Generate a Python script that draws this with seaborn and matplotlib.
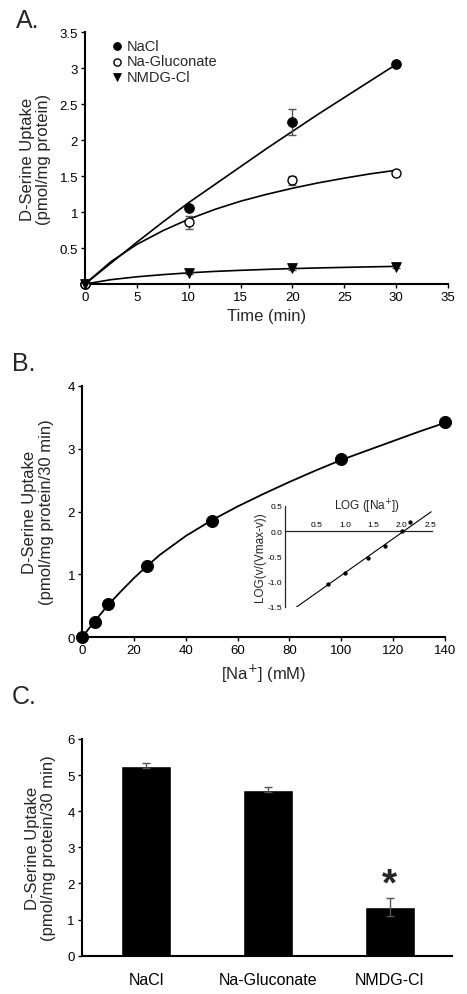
import numpy as np
import pandas as pd
import seaborn as sns
import matplotlib
matplotlib.use("Agg")
import matplotlib.pyplot as plt

sns.set_theme(style="ticks")
plt.rcParams["font.family"] = ["Liberation Sans", "DejaVu Sans"]

# ---- Panel A: time course ----
time_pts = [0, 10, 20, 30]
nacl_uptake = [0, 1.06, 2.25, 3.06]
nacl_err = [0, 0.03, 0.18, 0.02]
gluc_uptake = [0, 0.86, 1.44, 1.54]
gluc_err = [0, 0.09, 0.06, 0.02]
nmdg_uptake = [0, 0.15, 0.22, 0.24]
nmdg_err = [0, 0.01, 0.02, 0.02]

fit_time = [0, 2.5, 5, 7.5, 10, 12.5, 15, 17.5, 20, 22.5, 25, 27.5, 30]
nacl_fit = [0, 0.29, 0.58, 0.86, 1.13, 1.38, 1.63, 1.88, 2.12, 2.36, 2.59, 2.82, 3.05]
gluc_fit = [0, 0.31, 0.55, 0.74, 0.90, 1.035, 1.15, 1.245, 1.33, 1.405, 1.47, 1.53, 1.58]
nmdg_fit = [0, 0.06, 0.10, 0.13, 0.155, 0.175, 0.19, 0.203, 0.214, 0.223, 0.231, 0.238, 0.245]

# ---- Panel B: Na+ dependence ----
na_conc = [0, 5, 10, 25, 50, 100, 140]
na_uptake = [0, 0.25, 0.53, 1.14, 1.85, 2.83, 3.43]
na_err = [0, 0.02, 0.03, 0.07, 0.05, 0.04, 0.08]
na_fit_x = [0, 5, 10, 15, 20, 25, 30, 40, 50, 60, 70, 80, 90, 100, 110, 120, 130, 140]
na_fit_y = [0, 0.26, 0.51, 0.73, 0.94, 1.13, 1.31, 1.61, 1.86, 2.08, 2.28, 2.47, 2.65, 2.82, 2.97, 3.12, 3.27, 3.41]

# inset (Hill plot)
log_na = [0.70, 1.00, 1.40, 1.70, 2.00, 2.15]
log_ratio = [-1.04, -0.83, -0.53, -0.29, 0.0, 0.17]
hill_x = [0.10, 2.52]
hill_y = [-1.53, 0.38]

# ---- Panel C: bars ----
conditions = ["NaCl", "Na-Gluconate", "NMDG-Cl"]
bar_uptake = [5.26, 4.60, 1.35]
bar_err = [0.07, 0.06, 0.24]

W, H = 467, 995
fig = plt.figure(figsize=(W / 100, H / 100), dpi=100)

tick_fs = 9.5
lab_fs = 12
spine_w = 1.5
err_col = "#555555"


def style(ax):
    sns.despine(ax=ax)
    for s in ["left", "bottom"]:
        ax.spines[s].set_linewidth(spine_w)
        ax.spines[s].set_color("black")
    ax.tick_params(labelsize=tick_fs, width=1, length=3, colors="black", pad=2)


# Panel A
axA = fig.add_axes([85 / W, 1 - 285 / H, 363 / W, 252 / H])
for y in [nacl_fit, gluc_fit, nmdg_fit]:
    sns.lineplot(x=fit_time, y=y, ax=axA, color="black", lw=1.2, sort=False,
                 estimator=None)
axA.errorbar(time_pts, nacl_uptake, yerr=nacl_err, fmt="none", ecolor=err_col,
             elinewidth=1, capsize=3, clip_on=False)
axA.errorbar(time_pts, gluc_uptake, yerr=gluc_err, fmt="none", ecolor=err_col,
             elinewidth=1, capsize=3, clip_on=False)
axA.errorbar(time_pts, nmdg_uptake, yerr=nmdg_err, fmt="none", ecolor=err_col,
             elinewidth=1, capsize=3, clip_on=False)
sns.scatterplot(x=time_pts, y=nacl_uptake, ax=axA, marker="o", s=50,
                color="black", edgecolor="black", label="NaCl", clip_on=False,
                zorder=5)
sns.scatterplot(x=time_pts, y=gluc_uptake, ax=axA, marker="o", s=42,
                facecolor="white", edgecolor="black", linewidth=1,
                label="Na-Gluconate", clip_on=False, zorder=5)
sns.scatterplot(x=time_pts, y=nmdg_uptake, ax=axA, marker="v", s=50,
                color="black", edgecolor="black", label="NMDG-Cl",
                clip_on=False, zorder=5)
axA.set_xlim(0, 35)
axA.set_ylim(0, 3.5)
axA.set_xticks(range(0, 36, 5))
axA.set_yticks([0.5, 1, 1.5, 2, 2.5, 3, 3.5])
axA.set_yticklabels(["0.5", "1", "1.5", "2", "2.5", "3", "3.5"])
axA.set_xlabel("Time (min)", fontsize=lab_fs, labelpad=4)
axA.set_ylabel("D-Serine Uptake\n(pmol/mg protein)", fontsize=lab_fs,
               labelpad=6, linespacing=1.1)
style(axA)
leg = axA.legend(loc="upper left", bbox_to_anchor=(0.06, 0.99), frameon=False,
                 fontsize=10.5, handletextpad=0.3, labelspacing=0.1,
                 borderpad=0.2, handlelength=0.8, borderaxespad=0.1,
                 markerscale=0.8)
fig.text(16 / W, 1 - 21 / H, "A.", fontsize=18, va="center", ha="left")

# Panel B
axB = fig.add_axes([82 / W, 1 - 638.3 / H, 363 / W, 251.6 / H])
sns.lineplot(x=na_fit_x, y=na_fit_y, ax=axB, color="black", lw=1.3,
             sort=False, estimator=None)
axB.errorbar(na_conc, na_uptake, yerr=na_err, fmt="none", ecolor=err_col,
             elinewidth=1, capsize=2.5, clip_on=False)
sns.scatterplot(x=na_conc, y=na_uptake, ax=axB, marker="o", s=75,
                color="black", edgecolor="black", clip_on=False, zorder=5)
axB.set_xlim(0, 140)
axB.set_ylim(0, 4)
axB.set_xticks(range(0, 141, 20))
axB.set_yticks(range(0, 5))
axB.set_xlabel("[Na$^{+}$] (mM)", fontsize=lab_fs, labelpad=4)
axB.set_ylabel("D-Serine Uptake\n(pmol/mg protein/30 min)", fontsize=lab_fs,
               labelpad=10, linespacing=1.1)
style(axB)
fig.text(12 / W, 1 - 364 / H, "B.", fontsize=18, va="center", ha="left")

# inset
axI = fig.add_axes([284.8 / W, 1 - 608 / H, 147.5 / W, 101.3 / H])
axI.patch.set_alpha(0)
sns.lineplot(x=hill_x, y=hill_y, ax=axI, color="black", lw=0.8,
             sort=False, estimator=None)
sns.scatterplot(x=log_na, y=log_ratio, ax=axI, marker="o", s=8,
                color="black", edgecolor="black", zorder=5)
axI.set_xlim(-0.07, 2.54)
axI.set_ylim(-1.5, 0.5)
axI.spines["right"].set_visible(False)
axI.spines["bottom"].set_visible(False)
axI.spines["top"].set_position(("data", 0))
axI.spines["top"].set_linewidth(0.9)
axI.spines["left"].set_linewidth(0.9)
axI.xaxis.set_ticks_position("top")
axI.set_xticks([0.5, 1.0, 1.5, 2.0, 2.5])
axI.set_xticklabels(["0.5", "1.0", "1.5", "2.0", "2.5"])
axI.set_yticks([0.5, 0.0, -0.5, -1.0, -1.5])
axI.set_yticklabels(["0.5", "0.0", "-0.5", "-1.0", "-1.5"])
axI.tick_params(labelsize=6, length=0, pad=2, colors="black")
axI.text(0.56, 1.0, "LOG ([Na$^{+}$])", transform=axI.transAxes,
         fontsize=8.5, ha="center", va="center")
axI.set_ylabel("LOG(v/(Vmax-v))", fontsize=8.5, labelpad=1)

# Panel C
axC = fig.add_axes([81.7 / W, 1 - 956.7 / H, 370 / W, 216.7 / H])
bar_df = pd.DataFrame({"cond": conditions, "uptake": bar_uptake})
sns.barplot(data=bar_df, x="cond", y="uptake", ax=axC, color="black",
            width=0.41, errorbar=None, saturation=1)
axC.errorbar(range(len(conditions)), bar_uptake, yerr=bar_err, fmt="none",
             ecolor=err_col, elinewidth=1, capsize=3)
axC.text(2, bar_uptake[2] + bar_err[2] + 0.38, "*", ha="center", va="center",
         fontsize=28, fontweight="bold")
axC.set_xlim(-0.53, 2.51)
axC.set_ylim(0, 6)
axC.set_yticks(range(0, 7))
axC.set_xlabel("")
axC.set_ylabel("D-Serine Uptake\n(pmol/mg protein/30 min)", fontsize=lab_fs,
               labelpad=8, linespacing=1.1)
style(axC)
axC.tick_params(axis="x", length=0, labelsize=11.5, pad=12)
fig.text(12 / W, 1 - 697 / H, "C.", fontsize=18, va="center", ha="left")

fig.savefig("out.png", dpi=100)
